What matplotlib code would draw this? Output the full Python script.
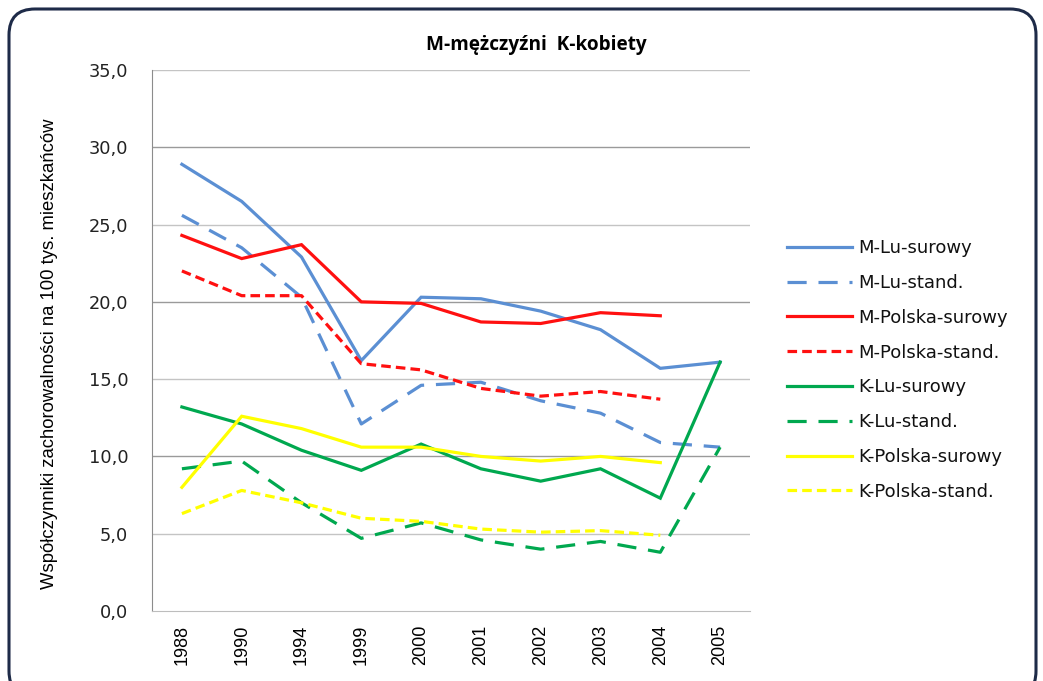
import numpy as np
import matplotlib
matplotlib.use("Agg")
import matplotlib.pyplot as plt
from matplotlib.patches import FancyBboxPatch
from matplotlib.ticker import FuncFormatter

# data
years = ['1988', '1990', '1994', '1999', '2000', '2001', '2002', '2003', '2004', '2005']

m_lu_surowy = [28.9, 26.5, 22.9, 16.2, 20.3, 20.2, 19.4, 18.2, 15.7, 16.1]
m_lu_stand = [25.6, 23.5, 20.3, 12.1, 14.6, 14.8, 13.6, 12.8, 10.9, 10.6]
m_pl_surowy = [24.3, 22.8, 23.7, 20.0, 19.9, 18.7, 18.6, 19.3, 19.1, np.nan]
m_pl_stand = [22.0, 20.4, 20.4, 16.0, 15.6, 14.4, 13.9, 14.2, 13.7, np.nan]
k_lu_surowy = [13.2, 12.1, 10.4, 9.1, 10.8, 9.2, 8.4, 9.2, 7.3, 16.1]
k_lu_stand = [9.2, 9.7, 7.0, 4.7, 5.7, 4.6, 4.0, 4.5, 3.8, 10.6]
k_pl_surowy = [8.0, 12.6, 11.8, 10.6, 10.6, 10.0, 9.7, 10.0, 9.6, np.nan]
k_pl_stand = [6.3, 7.8, 7.0, 6.0, 5.8, 5.3, 5.1, 5.2, 4.9, np.nan]

BLUE = '#5b8fd3'
RED = '#ff1010'
GREEN = '#00a84f'
YELLOW = '#ffff00'

long_dash = (0, (6.0, 3.7))
short_dash = (0, (3.0, 1.6))

series = [
    ('M-Lu-surowy', m_lu_surowy, BLUE, '-'),
    ('M-Lu-stand.', m_lu_stand, BLUE, long_dash),
    ('M-Polska-surowy', m_pl_surowy, RED, '-'),
    ('M-Polska-stand.', m_pl_stand, RED, short_dash),
    ('K-Lu-surowy', k_lu_surowy, GREEN, '-'),
    ('K-Lu-stand.', k_lu_stand, GREEN, long_dash),
    ('K-Polska-surowy', k_pl_surowy, YELLOW, '-'),
    ('K-Polska-stand.', k_pl_stand, YELLOW, short_dash),
]

fig = plt.figure(figsize=(10.43, 6.81), dpi=100)
W, H = 1043, 681

# rounded outer frame (inch units so the corners are round)
frame = FancyBboxPatch((0.09, -0.16), 10.27, 6.81 - 0.09 + 0.16,
                       boxstyle='round,pad=0,rounding_size=0.26',
                       transform=fig.dpi_scale_trans, facecolor='none',
                       edgecolor='#1e2b48', linewidth=2.2, zorder=-1)
fig.patches.append(frame)

ax = fig.add_axes([152 / W, 1 - 611 / H, 598 / W, 541 / H])
ax.set_facecolor('none')

x = np.arange(len(years))
for name, vals, col, ls in series:
    ax.plot(x, vals, color=col, linestyle=ls, linewidth=2.3, label=name,
            solid_joinstyle='miter', dash_capstyle='butt')

ax.set_xlim(-0.5, len(years) - 0.5)
ax.set_ylim(0, 35)
ax.set_yticks(np.arange(0, 36, 5))
ax.yaxis.set_major_formatter(FuncFormatter(lambda v, p: f'{v:.1f}'.replace('.', ',')))
ax.set_xticks(x)
ax.set_xticklabels(years, rotation=90, fontsize=13,
                   family=['Liberation Sans', 'DejaVu Sans'])
ax.tick_params(axis='y', labelsize=12.8, length=0, pad=17, labelcolor='#222222')
ax.tick_params(axis='x', length=0, pad=10)

for v in range(5, 36, 5):
    ax.axhline(v, color='#9a9a9a' if v % 10 == 0 else '#c4c4c4',
               linewidth=1.0, zorder=0)
for s in ['top', 'right']:
    ax.spines[s].set_visible(False)
ax.spines['left'].set_color('#8c8c8c')
ax.spines['bottom'].set_color('#bdbdbd')

ax.set_ylabel('Współczynniki zachorowalności na 100 tys. mieszkańców',
              fontsize=13.3, family=['Liberation Sans', 'DejaVu Sans'])
ax.yaxis.set_label_coords(-0.158, 0.475)

fig.text(536 / W, 1 - 45 / H, 'M-mężczyźni  K-kobiety', ha='center', va='center',
         fontsize=13.7, fontweight='bold', family=['Open Sans', 'DejaVu Sans'])

leg = ax.legend(loc='upper left', bbox_to_anchor=(780 / W, 1 - 232 / H),
                bbox_transform=fig.transFigure, frameon=False,
                fontsize=13, handlelength=3.6, handletextpad=0.33,
                labelspacing=0.93, borderaxespad=0)
for t in leg.get_texts():
    t.set_color('#111111')

fig.savefig('out.png', dpi=100)
